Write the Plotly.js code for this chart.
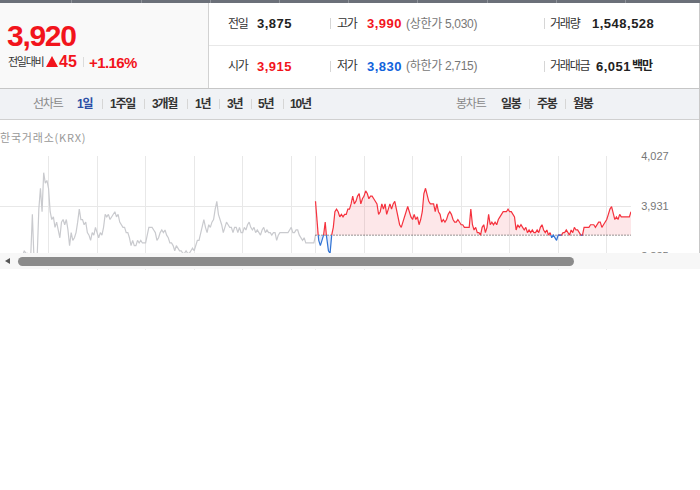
<!DOCTYPE html>
<html><head><meta charset="utf-8">
<script src="https://cdn.plot.ly/plotly-3.0.1.min.js"></script>
<style>
html,body{margin:0;padding:0;background:#fff;}
body{width:700px;height:490px;position:relative;overflow:hidden;font-family:'Liberation Sans','Noto Sans CJK KR',sans-serif;}
.a{position:absolute;white-space:nowrap;}
.k{font-family:'Noto Sans CJK KR','Liberation Sans',sans-serif;}
.lab{font-family:'Noto Sans CJK KR',sans-serif;font-size:12px;line-height:12px;letter-spacing:-1.2px;color:#333;}
.val{font-family:'Liberation Sans',sans-serif;font-weight:bold;font-size:13px;line-height:13px;letter-spacing:0.5px;color:#222;}
.sub{font-family:'Liberation Sans','Noto Sans CJK KR',sans-serif;font-size:12px;line-height:12px;letter-spacing:-0.3px;color:#777;}
.up{color:#f2141c;}
.dn{color:#1163dc;}
.sep{position:absolute;width:1px;background:#d6d6d6;}
.tab{position:absolute;white-space:nowrap;font-family:'Liberation Sans','Noto Sans CJK KR',sans-serif;font-weight:bold;font-size:12px;line-height:12px;letter-spacing:-1.2px;color:#333;top:98px;}
.tabg{font-weight:normal;color:#888;}
.box{position:absolute;}
</style>
</head>
<body>
<!-- top dark band -->
<div class="box" style="left:0;top:0;width:700px;height:3px;background:#6b7079"></div>
<div class="box" style="left:71px;top:0;width:1px;height:3px;background:#8f939a"></div>
<div class="box" style="left:141px;top:0;width:1px;height:3px;background:#8f939a"></div>
<div class="box" style="left:210px;top:0;width:1px;height:3px;background:#8f939a"></div>
<div class="box" style="left:279px;top:0;width:1px;height:3px;background:#8f939a"></div>
<div class="box" style="left:348px;top:0;width:1px;height:3px;background:#8f939a"></div>
<div class="box" style="left:417px;top:0;width:1px;height:3px;background:#8f939a"></div>
<div class="box" style="left:487px;top:0;width:1px;height:3px;background:#8f939a"></div>
<div class="box" style="left:556px;top:0;width:1px;height:3px;background:#8f939a"></div>
<div class="box" style="left:625px;top:0;width:1px;height:3px;background:#8f939a"></div>

<!-- left price panel -->
<div class="box" style="left:0;top:3px;width:208px;height:85px;background:#f9f9f9"></div>
<div class="box" style="left:208px;top:3px;width:1px;height:85px;background:#d2d2d2"></div>
<div class="box" style="left:209px;top:45px;width:490px;height:1px;background:#e8e8e8"></div>

<div id="curPrice" class="a up" style="left:7px;top:21px;font-size:30px;line-height:30px;font-weight:bold;letter-spacing:-1.3px"></div>
<div class="a k" style="left:8px;top:56px;font-size:11px;line-height:11px;letter-spacing:-1.3px;color:#333">전일대비</div>
<div class="box" style="left:46px;top:56px;width:0;height:0;border-left:6px solid transparent;border-right:6px solid transparent;border-bottom:11px solid #f2141c"></div>
<div id="chgAbs" class="a up" style="left:59px;top:54px;font-size:16px;line-height:16px;font-weight:bold"></div>
<div class="sep" style="left:83px;top:57px;height:10px;background:#dcdcdc"></div>
<div id="chgPct" class="a up" style="left:89px;top:54.5px;font-size:15px;line-height:15px;font-weight:bold;letter-spacing:-0.6px"></div>

<!-- info rows -->
<div class="a lab" style="left:228px;top:17px">전일</div>
<div id="vPrev" class="a val" style="left:257px;top:17.2px"></div>
<div class="sep" style="left:330px;top:18px;height:11px"></div>
<div class="a lab" style="left:337px;top:17px">고가</div>
<div id="vHigh" class="a val up" style="left:367px;top:17.2px"></div>
<div id="vUpper" class="a sub" style="left:406px;top:17.7px"></div>
<div class="sep" style="left:544px;top:18px;height:11px"></div>
<div class="a lab" style="left:550px;top:17px">거래량</div>
<div id="vVol" class="a val" style="left:592px;top:17.2px"></div>

<div class="a lab" style="left:228px;top:59.3px">시가</div>
<div id="vOpen" class="a val up" style="left:257px;top:59.7px"></div>
<div class="sep" style="left:330px;top:61px;height:11px"></div>
<div class="a lab" style="left:337px;top:59.3px">저가</div>
<div id="vLow" class="a val dn" style="left:367px;top:59.7px"></div>
<div id="vLower" class="a sub" style="left:406px;top:60.2px"></div>
<div class="sep" style="left:544px;top:61px;height:11px"></div>
<div class="a lab" style="left:550px;top:59.3px">거래대금</div>
<div id="vAmt" class="a val" style="left:596px;top:59.7px"></div>
<div class="a lab" style="left:632px;top:59.3px;font-weight:bold;color:#222;letter-spacing:-1px">백만</div>

<!-- tab bar -->
<div class="box" style="left:0;top:88px;width:699px;height:30px;background:#f0f2f5;border-top:1px solid #c6c6c6;border-bottom:1px solid #d0d0d0"></div>
<div class="tab tabg" style="left:33px">선차트</div>
<div class="tab" style="left:77px;color:#2c4ea5">1일</div>
<div class="sep" style="left:102px;top:99px;height:10px"></div>
<div class="tab" style="left:110px">1주일</div>
<div class="sep" style="left:144px;top:99px;height:10px"></div>
<div class="tab" style="left:152px">3개월</div>
<div class="sep" style="left:187px;top:99px;height:10px"></div>
<div class="tab" style="left:195px">1년</div>
<div class="sep" style="left:219px;top:99px;height:10px"></div>
<div class="tab" style="left:227px">3년</div>
<div class="sep" style="left:251px;top:99px;height:10px"></div>
<div class="tab" style="left:258px">5년</div>
<div class="sep" style="left:283px;top:99px;height:10px"></div>
<div class="tab" style="left:290px">10년</div>
<div class="tab tabg" style="left:456px">봉차트</div>
<div class="tab" style="left:501px">일봉</div>
<div class="sep" style="left:529px;top:99px;height:10px"></div>
<div class="tab" style="left:537px">주봉</div>
<div class="sep" style="left:565px;top:99px;height:10px"></div>
<div class="tab" style="left:573px">월봉</div>

<!-- chart -->
<div class="box" style="left:0;top:120px;width:698px;height:150px;overflow:hidden">
  <div id="chart" style="position:absolute;left:0;top:0;width:700px;height:200px"></div>
</div>
<div class="a k" style="left:0;top:132px;font-size:11px;line-height:11px;letter-spacing:0.8px;color:#999;z-index:5">한국거래소(KRX)</div>

<!-- scroll bar -->
<div class="box" style="left:0;top:253px;width:700px;height:16px;background:#f7f7f7;z-index:6"></div>
<div class="box" style="left:5px;top:258px;width:0;height:0;border-right:5px solid #555;border-top:3.5px solid transparent;border-bottom:3.5px solid transparent;z-index:7"></div>
<div class="box" style="left:18px;top:256.5px;width:556px;height:9px;border-radius:4.5px;background:#8b8b8b;z-index:7"></div>

<div class="box" style="left:699px;top:3px;width:1px;height:250px;background:#c8c8c8;z-index:8"></div>

<script>
// ---- quote summary ----
const currentPrice = 3920;
const prevClose = 3875;
const openPrice = 3915;
const highPrice = 3990;
const lowPrice = 3830;
const upperLimit = 5030;
const lowerLimit = 2715;
const volume = 1548528;
const tradeAmountMil = 6051;

// ---- y axis ticks ----
const yTickVals = [3835, 3931, 4027];
const yTickText = ['3,835', '3,931', '4,027'];

// ---- time axis (minutes from previous session open; 390 min per session) ----
const sessionMinutes = 390;
const stepMinutes = 2;
const gridMinutes = [0, 60, 120, 180, 240, 300, 360, 390, 450, 510, 570, 630, 690, 750];

// ---- previous session prices (every 2 minutes) ----
const prevPrices = [
 3825,3820,3825,3820,3815,3820,3825,3820,3825,3830,
 3825,3830,3825,3830,3835,3845,3840,3840,3830,3835,
 3915,3830,3825,3835,3925,3965,3920,3995,3975,3980,
 3965,3920,3905,3910,3890,3900,3885,3870,3900,3905,
 3895,3905,3885,3855,3880,3865,3870,3880,3900,3925,
 3905,3905,3895,3900,3880,3875,3865,3880,3875,3890,
 3880,3870,3880,3875,3890,3915,3910,3915,3905,3910,
 3915,3920,3910,3915,3900,3895,3890,3890,3880,3880,
 3870,3855,3865,3855,3855,3865,3860,3865,3860,3860,
 3860,3875,3890,3890,3890,3885,3880,3865,3870,3880,
 3885,3880,3885,3875,3870,3860,3860,3855,3845,3855,
 3850,3845,3845,3840,3840,3845,3840,3840,3845,3850,
 3845,3855,3865,3865,3880,3895,3905,3890,3880,3895,
 3890,3900,3905,3925,3940,3915,3905,3895,3880,3890,
 3900,3895,3890,3890,3880,3890,3890,3880,3890,3880,
 3880,3890,3885,3895,3900,3890,3885,3890,3880,3885,
 3880,3875,3885,3890,3880,3885,3880,3880,3875,3880,
 3880,3865,3875,3880,3880,3880,3880,3880,3880,3885,
 3890,3880,3880,3885,3885,3875,3870,3865,3870,3860,
 3860,3860,3860,3860,3860,3875
];

// ---- today's session prices (every 2 minutes) ----
const todayPrices = [
 3940,3895,3865,3855,3865,3875,3900,3865,3845,3840,
 3875,3890,3920,3925,3920,3910,3915,3910,3915,3915,
 3925,3925,3935,3950,3935,3940,3950,3955,3935,3945,
 3950,3960,3955,3945,3950,3950,3945,3940,3935,3915,
 3920,3935,3925,3935,3915,3925,3935,3925,3935,3940,
 3925,3910,3895,3890,3900,3910,3920,3930,3920,3910,
 3905,3915,3905,3910,3895,3905,3920,3955,3965,3950,
 3940,3935,3935,3935,3920,3935,3920,3915,3900,3905,
 3900,3905,3915,3920,3915,3905,3900,3900,3905,3900,
 3895,3895,3890,3890,3890,3890,3925,3895,3885,3890,
 3880,3880,3875,3890,3895,3880,3890,3915,3895,3900,
 3895,3900,3895,3905,3910,3915,3920,3920,3920,3925,
 3920,3920,3915,3910,3885,3895,3890,3895,3890,3885,
 3890,3880,3885,3880,3885,3880,3880,3885,3880,3890,
 3895,3885,3880,3885,3875,3880,3870,3875,3870,3865,
 3875,3875,3875,3880,3880,3885,3880,3875,3885,3880,
 3890,3885,3885,3880,3875,3875,3890,3890,3890,3890,
 3895,3895,3895,3890,3895,3900,3900,3890,3895,3900,
 3905,3915,3925,3930,3915,3905,3910,3905,3915,3910,
 3910,3910,3910,3910,3910,3920
];

// ---- fill header texts ----
const fmt = n => n.toLocaleString('en-US');
const chg = currentPrice - prevClose;
document.getElementById('curPrice').textContent = fmt(currentPrice);
document.getElementById('chgAbs').textContent = fmt(chg);
document.getElementById('chgPct').textContent = '+' + (chg / prevClose * 100).toFixed(2) + '%';
document.getElementById('vPrev').textContent = fmt(prevClose);
document.getElementById('vHigh').textContent = fmt(highPrice);
document.getElementById('vUpper').textContent = '(상한가 ' + fmt(upperLimit) + ')';
document.getElementById('vVol').textContent = fmt(volume);
document.getElementById('vOpen').textContent = fmt(openPrice);
document.getElementById('vLow').textContent = fmt(lowPrice);
document.getElementById('vLower').textContent = '(하한가 ' + fmt(lowerLimit) + ')';
document.getElementById('vAmt').textContent = fmt(tradeAmountMil);

// ---- chart ----
const prevX = prevPrices.map((_, i) => i * stepMinutes);
const todayX = todayPrices.map((_, i) => sessionMinutes + i * stepMinutes);

// split today's line where it crosses the previous close
const ax = [], ay = [];
for (let i = 0; i < todayPrices.length; i++) {
  if (i > 0) {
    const y0 = todayPrices[i - 1], y1 = todayPrices[i];
    if ((y0 - prevClose) * (y1 - prevClose) < 0) {
      const t = (prevClose - y0) / (y1 - y0);
      ax.push(todayX[i - 1] + t * (todayX[i] - todayX[i - 1]));
      ay.push(prevClose);
    }
  }
  ax.push(todayX[i]);
  ay.push(todayPrices[i]);
}
const baseY = ax.map(() => prevClose);
const upY = ay.map(v => Math.max(v, prevClose));
const dnY = ay.map(v => Math.min(v, prevClose));
const redY = ay.map(v => v >= prevClose ? v : null);
const blueY = ay.map(v => v <= prevClose ? v : null);

const traces = [
  {x: prevX, y: prevPrices, type: 'scatter', mode: 'lines', line: {color: '#c9cace', width: 1.2}, hoverinfo: 'skip'},
  {x: ax, y: baseY, type: 'scatter', mode: 'lines', line: {width: 0, color: 'rgba(0,0,0,0)'}, hoverinfo: 'skip'},
  {x: ax, y: upY, type: 'scatter', mode: 'lines', fill: 'tonexty', fillcolor: 'rgba(240,70,85,0.13)', line: {width: 0, color: 'rgba(0,0,0,0)'}, hoverinfo: 'skip'},
  {x: ax, y: baseY, type: 'scatter', mode: 'lines', line: {width: 0, color: 'rgba(0,0,0,0)'}, hoverinfo: 'skip'},
  {x: ax, y: dnY, type: 'scatter', mode: 'lines', fill: 'tonexty', fillcolor: 'rgba(50,110,220,0.12)', line: {width: 0, color: 'rgba(0,0,0,0)'}, hoverinfo: 'skip'},
  {x: [sessionMinutes, 2 * sessionMinutes], y: [prevClose, prevClose], type: 'scatter', mode: 'lines', line: {color: '#333', width: 1, dash: '1px,2px'}, hoverinfo: 'skip'},
  {x: ax, y: redY, type: 'scatter', mode: 'lines', connectgaps: false, line: {color: '#f5323e', width: 1.2}, hoverinfo: 'skip'},
  {x: ax, y: blueY, type: 'scatter', mode: 'lines', connectgaps: false, line: {color: '#2f72d4', width: 1.2}, hoverinfo: 'skip'}
];

const layout = {
  width: 700, height: 200,
  margin: {l: 0, r: 69, t: 36, b: 40, pad: 0},
  paper_bgcolor: 'rgba(0,0,0,0)', plot_bgcolor: '#ffffff',
  showlegend: false, hovermode: false,
  xaxis: {range: [0, 2 * sessionMinutes], tickvals: gridMinutes, showticklabels: false,
          showgrid: true, gridcolor: '#e8e8e8', gridwidth: 1, zeroline: false, showline: false, ticks: ''},
  yaxis: {range: [3788.9, 4027], side: 'right', tickvals: yTickVals, ticktext: yTickText,
          showgrid: true, gridcolor: '#e8e8e8', gridwidth: 1, zeroline: false, showline: false,
          ticks: 'outside', ticklen: 7, tickcolor: 'rgba(0,0,0,0)',
          tickfont: {family: 'Liberation Sans, sans-serif', size: 11, color: '#777'}}
};

Plotly.newPlot('chart', traces, layout, {staticPlot: true, displayModeBar: false});
</script>
</body></html>
